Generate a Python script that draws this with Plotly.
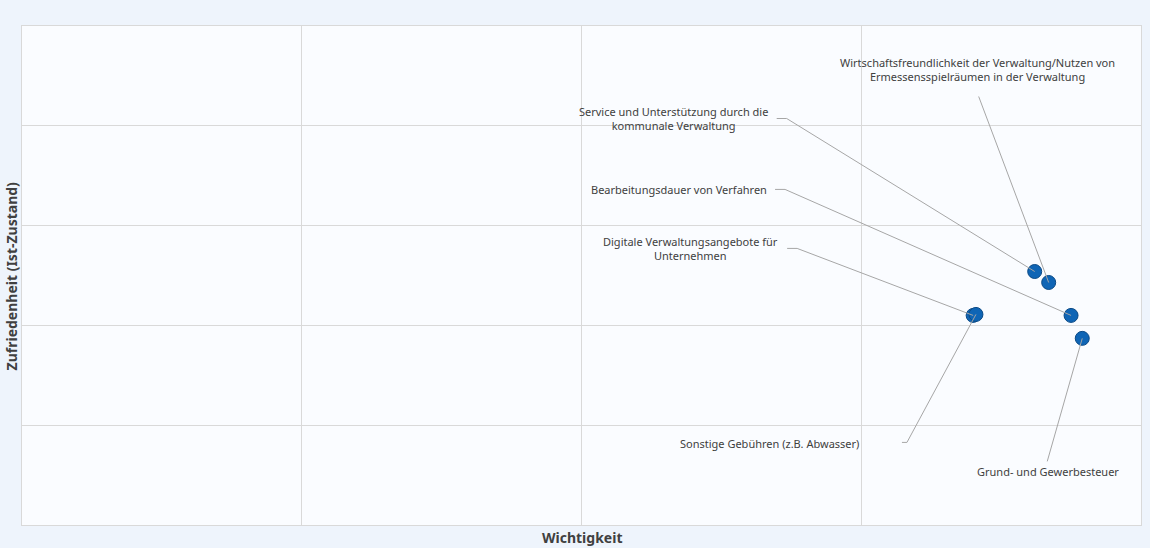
import plotly.graph_objects as go

# Themen der Befragung
themen = [
    "Service und Unterstützung durch die<br>kommunale Verwaltung",
    "Wirtschaftsfreundlichkeit der Verwaltung/Nutzen von<br>Ermessensspielräumen in der Verwaltung",
    "Bearbeitungsdauer von Verfahren",
    "Grund- und Gewerbesteuer",
    "Digitale Verwaltungsangebote für<br>Unternehmen",
    "Sonstige Gebühren (z.B. Abwasser)",
]
wichtigkeit = [4.62, 4.67, 4.75, 4.79, 4.40, 4.41]
zufriedenheit = [2.54, 2.43, 2.10, 1.87, 2.10, 2.11]

# Position der Beschriftungen (Pixel relativ zum Punkt, y nach unten)
label_pos = [
    dict(dx=-265, dy=-153, anchor="right", knick=[(-248, -153), (-258, -153)]),
    dict(dx=-71, dy=-213, anchor="center", knick=[(-70, -186)]),
    dict(dx=-302, dy=-126, anchor="right", knick=[(-286, -126), (-296, -126)]),
    dict(dx=-34, dy=133, anchor="center", knick=[(-35, 123)]),
    dict(dx=-193, dy=-67, anchor="right", knick=[(-176, -67), (-186, -67)]),
    dict(dx=-115, dy=129, anchor="right", knick=[(-69, 128), (-74, 128)]),
]

textfarbe = "#404040"
gitter = "#d9d9d9"
schrift = "Noto Sans"

fig = go.Figure(go.Scatter(
    x=wichtigkeit,
    y=zufriedenheit,
    mode="markers",
    marker=dict(size=14, color="#0F65B5", line=dict(color="#0B4A86", width=1)),
    hoverinfo="skip",
))

# Beschriftungen mit Verbindungslinien
for thema, x, y, pos in zip(themen, wichtigkeit, zufriedenheit, label_pos):
    path = "M0,0" + "".join(f" L{px},{-py}" for px, py in pos["knick"])
    fig.add_shape(
        type="path", path=path,
        xref="x", yref="y", xsizemode="pixel", ysizemode="pixel",
        xanchor=x, yanchor=y,
        line=dict(color="#a6a6a6", width=1),
    )
    fig.add_annotation(
        x=x, y=y, xref="x", yref="y",
        text=thema, showarrow=False,
        xshift=pos["dx"], yshift=-pos["dy"],
        xanchor=pos["anchor"], yanchor="middle", align="center",
        font=dict(family=schrift, size=11, color=textfarbe),
    )

# Achsentitel
fig.add_annotation(
    x=0.5, y=-0.026, xref="paper", yref="paper",
    text="<b>Wichtigkeit</b>", showarrow=False,
    xanchor="center", yanchor="middle",
    font=dict(family=schrift, size=14, color=textfarbe),
)
fig.add_annotation(
    x=-0.009, y=0.5, xref="paper", yref="paper",
    text="<b>Zufriedenheit (Ist-Zustand)</b>", showarrow=False, textangle=-90,
    xanchor="center", yanchor="middle",
    font=dict(family=schrift, size=14, color=textfarbe),
)

fig.update_xaxes(
    range=[1, 5], dtick=1, tick0=1, showticklabels=False, ticks="",
    showgrid=True, gridcolor=gitter, gridwidth=1, zeroline=False,
    showline=True, linecolor=gitter, linewidth=1, mirror=True,
)
fig.update_yaxes(
    range=[0, 5], dtick=1, tick0=0, showticklabels=False, ticks="",
    showgrid=True, gridcolor=gitter, gridwidth=1, zeroline=False,
    showline=True, linecolor=gitter, linewidth=1, mirror=True,
)

fig.update_layout(
    width=1150, height=548,
    margin=dict(l=22, r=9, t=26, b=23),
    paper_bgcolor="#eef4fc",
    plot_bgcolor="#fafcff",
    showlegend=False,
)

# Seitenrand entfernen, damit die Grafik genau ins Fenster passt
fig.write_html(
    "out.html",
    config={"displayModeBar": False},
    post_script="document.body.style.margin='0';document.body.style.overflow='hidden';",
)
